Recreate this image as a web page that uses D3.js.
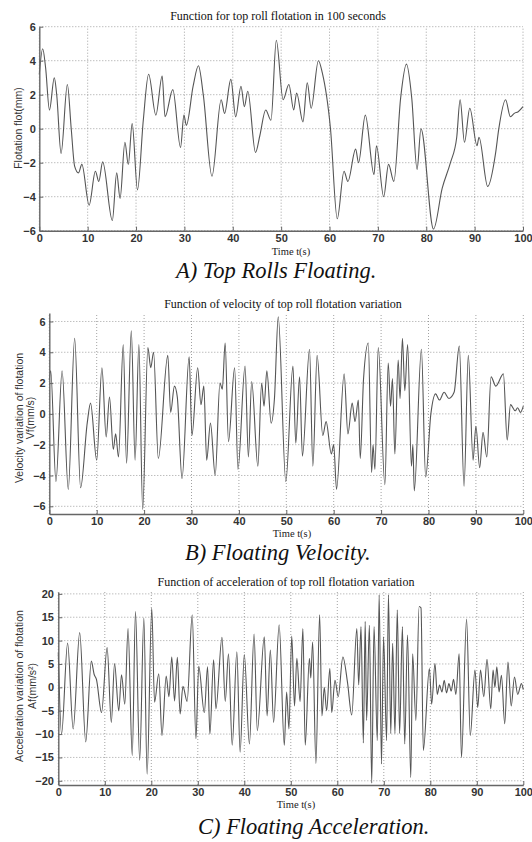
<!DOCTYPE html>
<html>
<head>
<meta charset="utf-8">
<script src="https://cdn.jsdelivr.net/npm/d3@7"></script>
<style>
  body { margin: 0; background: #fff; }
  svg { display: block; }
</style>
</head>
<body>
<script>
// values: [time s, value]
const flotation = [[0,3.2],[0.7,4.7],[1.3,3.6],[2.1,1.1],[3.1,3.0],[3.6,2.0],[4.5,-1.45],[5.8,2.6],[6.6,0.0],[7.3,-2.2],[8.1,-2.6],[8.8,-2.1],[10.3,-4.5],[11.6,-2.5],[12.3,-3.1],[13.1,-1.95],[15.1,-5.4],[16.0,-2.6],[16.7,-4.1],[17.7,-0.8],[18.4,-2.1],[19.2,0.3],[20.3,-3.6],[21.5,0.5],[22.6,3.2],[24.1,0.8],[25.4,3.1],[26.0,0.7],[27.6,2.3],[29.2,-1.1],[29.9,0.8],[30.4,0.2],[31.8,2.5],[32.9,3.7],[33.9,2.0],[35.7,-2.8],[37.6,1.7],[38.3,0.9],[39.6,2.9],[40.6,0.7],[41.7,2.5],[42.4,1.3],[43.1,2.2],[44.7,-1.4],[45.6,-0.4],[46.8,1.1],[47.9,0.5],[49.0,5.2],[50.4,1.7],[51.6,2.6],[52.6,1.1],[53.2,2.1],[54.5,0.4],[55.4,2.7],[56.2,1.2],[57.7,4.0],[58.5,3.3],[60.2,0.0],[61.6,-5.3],[63.0,-2.5],[63.8,-3.1],[65.4,-1.2],[66.0,-2.0],[67.4,0.8],[69.2,-2.7],[69.7,-1.0],[71.2,-4.0],[72.2,-2.1],[73.3,-3.1],[74.7,1.8],[75.9,3.8],[77.0,1.8],[78.1,-2.4],[78.9,0.0],[81.5,-5.9],[83.3,-3.5],[85.0,-2.0],[86.3,-0.5],[87.0,1.7],[87.9,-0.8],[89.0,1.2],[90.5,-1.0],[90.9,-0.5],[92.7,-3.4],[94.3,-1.5],[95.0,0.0],[96.4,1.7],[97.4,0.7],[98.2,0.9],[99.0,1.0],[100,1.3]];

const velocity = [[0,2.2],[0.3,2.8],[1.4,-4.4],[2.7,2.8],[4.0,-4.9],[5.35,4.9],[6.6,-4.8],[8.0,-0.6],[8.7,0.7],[10.0,-3.0],[11.1,3.0],[12.0,-1.5],[12.7,1.1],[13.5,-2.3],[14.0,-1.3],[14.6,-2.8],[15.6,4.5],[16.3,-3.2],[17.3,5.4],[18.1,-3.0],[18.9,4.5],[19.7,-6.2],[20.8,4.3],[21.4,3.0],[22.0,4.0],[23.0,-2.9],[25.0,3.8],[25.6,0.1],[26.4,1.8],[27.0,1.1],[28.0,-4.2],[29.5,3.7],[30.1,-1.4],[31.3,3.0],[32.0,0.6],[32.6,1.8],[33.2,-3.0],[34.0,-0.6],[35.0,-4.0],[36.0,2.0],[36.5,1.6],[37.1,4.6],[37.8,-1.8],[39.1,3.0],[39.8,-3.6],[41.3,3.1],[42.0,-2.8],[42.7,2.1],[44.0,-3.4],[44.8,2.0],[45.3,0.5],[45.9,2.8],[46.8,-0.6],[47.5,1.0],[48.3,6.3],[49.9,-4.4],[51.4,3.1],[52.0,-1.9],[52.8,2.4],[53.4,-2.75],[54.9,4.2],[55.6,-3.4],[56.5,3.8],[57.7,-1.4],[58.4,-0.5],[59.5,-2.6],[60.0,-2.0],[60.6,-4.9],[62.2,2.6],[63.0,-1.3],[63.9,0.7],[64.5,-0.5],[65.2,0.9],[65.6,-2.9],[66.3,2.3],[67.3,4.6],[68.0,-3.8],[68.3,-2.0],[68.7,-3.6],[69.4,4.3],[70.8,-4.6],[71.5,3.3],[72.0,0.5],[72.4,2.3],[72.9,-2.6],[73.6,3.5],[74.0,1.0],[74.5,4.9],[75.0,1.5],[75.6,4.5],[76.4,-3.4],[76.7,-2.0],[77.0,-5.0],[78.5,4.2],[79.4,-4.1],[80.5,0.0],[81.5,1.3],[82.3,0.9],[83.3,1.4],[84.3,1.0],[85.4,1.4],[86.5,4.4],[87.5,-4.7],[88.4,3.8],[89.4,-3.0],[90.0,-0.8],[90.8,-3.5],[91.5,-1.2],[92.3,-2.8],[93.2,2.4],[94.2,1.8],[95.8,2.6],[96.6,-1.7],[97.3,0.6],[98.3,0.2],[98.8,0.4],[99.4,0.1],[100,0.5]];

const acceleration = [[0,7.4],[0.7,-10.0],[2.0,9.5],[3.2,-8.9],[4.6,11.7],[5.9,-11.7],[7.1,5.6],[7.7,2.8],[8.2,1.7],[9.3,-5.4],[10.5,8.5],[11.4,-7.5],[12.1,5.1],[13.0,-5.0],[13.6,2.7],[14.3,-3.6],[15.0,12.6],[15.9,-14.6],[16.6,16.2],[17.5,-15.6],[18.4,14.8],[19.1,-18.6],[20.1,16.9],[20.7,-3.2],[21.6,2.9],[22.3,-10.3],[23.2,2.4],[23.8,-2.0],[24.4,6.5],[25.0,-2.9],[25.6,6.4],[26.2,-5.7],[26.8,0.2],[27.7,-3.0],[28.8,15.5],[29.6,-11.0],[30.2,4.5],[31.4,-5.4],[32.1,4.4],[32.6,-10.0],[33.4,5.9],[33.9,-4.6],[35.2,10.7],[35.9,-3.0],[36.6,7.2],[37.4,-12.4],[38.4,7.6],[39.1,-13.9],[40.0,7.0],[41.1,-12.1],[42.1,11.4],[42.8,-9.3],[44.3,10.8],[44.9,-6.1],[45.6,8.0],[46.3,-7.5],[47.5,13.4],[48.6,-12.4],[49.1,-1.0],[49.6,-8.9],[50.2,11.0],[50.8,-4.0],[51.3,6.2],[52.0,-3.0],[52.6,12.6],[53.1,-12.4],[54.0,6.2],[54.3,2.0],[54.7,9.7],[55.4,-16.3],[56.2,15.5],[56.7,-6.1],[57.2,0.0],[57.7,-5.0],[58.4,4.0],[58.8,-5.4],[59.5,1.5],[60.2,-2.0],[61.2,6.5],[62.2,1.0],[63.1,-5.9],[64.2,12.6],[64.6,0.5],[65.1,13.0],[65.6,-11.9],[66.0,14.1],[66.3,-7.1],[66.9,13.3],[67.4,-20.5],[67.9,13.0],[68.6,-11.4],[69.0,19.8],[69.5,-16.4],[69.95,10.8],[70.6,-11.4],[71.0,19.8],[71.5,-9.9],[71.9,9.4],[72.4,-9.9],[72.9,16.6],[73.4,-9.9],[74.0,13.0],[74.5,-12.1],[75.1,11.2],[75.8,-19.3],[76.2,7.2],[76.9,-7.1],[77.6,17.3],[78.0,17.0],[78.5,-13.5],[79.8,4.0],[80.3,-3.6],[81.0,5.1],[81.5,-1.5],[82.0,0.5],[82.5,-1.0],[83.0,1.5],[83.5,-1.2],[84.0,0.8],[84.5,-0.8],[85.0,1.7],[85.5,-1.5],[86.2,7.2],[86.7,-15.0],[87.8,14.6],[88.6,-10.3],[89.6,3.7],[90.2,-4.3],[90.8,3.7],[91.5,-2.0],[92.2,6.0],[93.0,-4.6],[93.5,3.7],[93.9,0.0],[94.3,4.4],[94.8,-1.0],[95.3,2.6],[96.0,-7.8],[96.7,5.4],[97.4,-4.0],[98.1,2.2],[98.8,-1.5],[99.6,0.8],[100,-0.5]];

const timeTicks = [0, 10, 20, 30, 40, 50, 60, 70, 80, 90, 100];
const flotTicks = [-6, -4, -2, 0, 2, 4, 6];
const velTicks = [-6, -4, -2, 0, 2, 4, 6];
const accTicks = [-20, -15, -10, -5, 0, 5, 10, 15, 20];

const serif = "'Liberation Serif', 'Times New Roman', serif";
const sans = "'Liberation Sans', Arial, sans-serif";

const svg = d3.select('body')
  .append('svg')
  .attr('width', 532)
  .attr('height', 842);

function panel(cfg) {
  const x = d3.scaleLinear().domain([0, 100]).range([cfg.left, cfg.right]);
  const y = d3.scaleLinear().domain(cfg.yDomain).range([cfg.bottom, cfg.top]);
  const g = svg.append('g');

  // dotted grid
  g.append('g').selectAll('line').data(timeTicks).join('line')
    .attr('x1', d => x(d)).attr('x2', d => x(d))
    .attr('y1', cfg.bottom).attr('y2', cfg.top)
  g.append('g').selectAll('line').data(cfg.yTicks).join('line')
    .attr('x1', cfg.left).attr('x2', cfg.right)
    .attr('y1', d => y(d)).attr('y2', d => y(d))
  g.selectAll('line')
    .attr('stroke', '#8a8a8a')
    .attr('stroke-width', 0.8)
    .attr('stroke-dasharray', '1,2');

  const line = d3.line()
    .curve(d3.curveMonotoneX)
    .x(d => x(d[0]))
    .y(d => y(d[1]));

  g.append('path')
    .datum(cfg.data)
    .attr('d', line)
    .attr('fill', 'none')
    .attr('stroke', '#555')
    .attr('stroke-width', 1.1);

  const xAxis = g.append('g')
    .attr('transform', `translate(0, ${cfg.bottom})`)
    .call(d3.axisBottom(x).tickValues(timeTicks).tickSizeInner(-4).tickSizeOuter(0).tickPadding(cfg.xPad));
  const yAxis = g.append('g')
    .attr('transform', `translate(${cfg.left}, 0)`)
    .call(d3.axisLeft(y).tickValues(cfg.yTicks).tickSizeInner(-4).tickSizeOuter(0).tickPadding(cfg.yPad));

  [xAxis, yAxis].forEach(a => {
    a.select('.domain').attr('stroke', '#666').attr('stroke-width', 1.4);
    a.selectAll('.tick line').attr('stroke', '#666');
    a.selectAll('.tick text')
      .attr('fill', '#333')
      .style('font-family', sans)
      .style('font-size', '11px')
      .style('font-weight', 'bold');
  });

  svg.append('text')
    .attr('x', cfg.titleX).attr('y', cfg.titleY)
    .attr('text-anchor', 'middle')
    .style('font-family', serif).style('font-size', '12px')
    .attr('fill', '#111')
    .text(cfg.title);

  svg.append('text')
    .attr('x', cfg.timeX).attr('y', cfg.timeY)
    .attr('text-anchor', 'middle')
    .style('font-family', serif).style('font-size', '10.5px')
    .attr('fill', '#222')
    .text('Time t(s)');

  cfg.yLabel.forEach((s, i) => {
    svg.append('text')
      .attr('transform', `translate(${cfg.yLabelX[i]}, ${cfg.yLabelY}) rotate(-90)`)
      .attr('text-anchor', 'middle')
      .style('font-family', sans).style('font-size', '10.5px')
      .attr('fill', '#333')
      .text(s);
  });

  svg.append('text')
    .attr('x', cfg.capX).attr('y', cfg.capY)
    .style('font-family', serif).style('font-size', '22.5px')
    .style('font-style', 'italic')
    .attr('fill', '#111')
    .text(cfg.caption);
}

panel({
  data: flotation, yDomain: [-6, 6], yTicks: flotTicks,
  left: 39.3, right: 523, top: 26.7, bottom: 230.7, xPad: 4, yPad: 3.5,
  title: 'Function for top roll flotation in 100 seconds', titleX: 278, titleY: 20,
  timeX: 291, timeY: 254.5,
  yLabel: ['Flotation flot(mm)'], yLabelX: [22], yLabelY: 128,
  caption: 'A) Top Rolls Floating.', capX: 176, capY: 278
});

panel({
  data: velocity, yDomain: [-6.5, 6.55], yTicks: velTicks,
  left: 49.3, right: 523.3, top: 313, bottom: 514, xPad: 3, yPad: 3.6,
  title: 'Function of velocity of top roll flotation variation', titleX: 283, titleY: 308,
  timeX: 292, timeY: 537,
  yLabel: ['Velocity variation of flotation', 'Vf(mm/s)'], yLabelX: [23, 34], yLabelY: 418,
  caption: 'B) Floating Velocity.', capX: 185, capY: 560
});

panel({
  data: acceleration, yDomain: [-20.9, 20.4], yTicks: accTicks,
  left: 58.3, right: 523.3, top: 592, bottom: 785, xPad: 3, yPad: 4.3,
  title: 'Function of acceleration of top roll flotation variation', titleX: 286, titleY: 586,
  timeX: 296, timeY: 808,
  yLabel: ['Acceleration variation of flotation', 'Af(mm/s\u00b2)'], yLabelX: [23, 36], yLabelY: 686,
  caption: 'C) Floating Acceleration.', capX: 198, capY: 834
});
</script>
</body>
</html>
